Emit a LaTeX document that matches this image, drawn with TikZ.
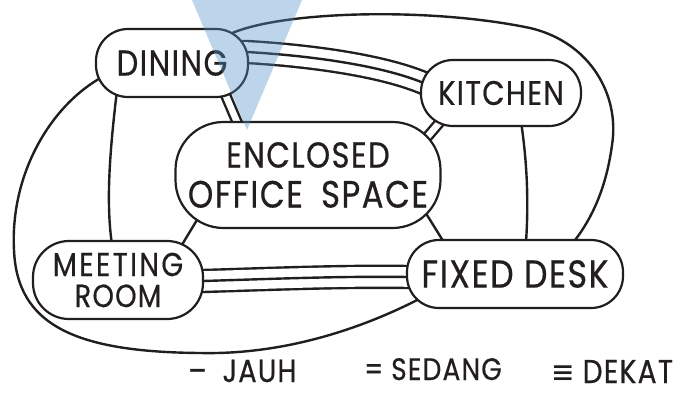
\documentclass[tikz,border=0pt]{standalone}
\usepackage{fontspec}
\setmainfont{Poppins}[FakeStretch=0.85, LetterSpace=4, FakeBold=0.5]
\newfontfamily\symf{DejaVu Sans}[FakeStretch=0.85]
\usetikzlibrary{calc,backgrounds}
\definecolor{ink}{RGB}{35,30,30}
\definecolor{skyblue}{RGB}{80,145,200}
\begin{document}
\begin{tikzpicture}[x=1pt,y=-1pt,
  bubble/.style={draw=ink, line width=2.2pt, fill=white, inner sep=0pt, outer sep=0pt, align=center, text=ink},
  single/.style={draw=ink, line width=2.4pt},
  dbl/.style={draw=ink, double=white, double distance=6.5pt, line width=2.4pt},
  trpl/.style={draw=ink, line width=24.4pt, postaction={draw=white, line width=19.6pt}, postaction={draw=ink, line width=2.4pt}},
  legend/.style={text=ink, inner sep=0pt, anchor=base west},
]
\useasboundingbox (0,0) rectangle (688,394);

% bubbles
\node[bubble, rounded corners=32pt, minimum width=152pt, minimum height=68pt,
      font=\fontsize{36}{38}\selectfont] (din) at (172,63) {DINING};
\node[bubble, rounded corners=32pt, minimum width=160pt, minimum height=66pt,
      font=\fontsize{34}{36}\selectfont] (kit) at (501,93) {KITCHEN};
\node[bubble, rounded corners=48pt, minimum width=265pt, minimum height=106pt,
      font=\fontsize{36}{40}\selectfont] (enc) at (308,175)
      {ENCLOSED\\{\fontsize{38}{40}\selectfont OFFICE\hspace{8pt} SPACE}};
\node[bubble, rounded corners=36pt, minimum width=170pt, minimum height=78pt,
      font=\fontsize{33}{31}\selectfont] (meet) at (118,280)
      {{\addfontfeatures{LetterSpace=7}MEETING}\\{\fontsize{32}{31}\selectfont ROOM}};
\node[bubble, rounded corners=32pt, minimum width=216pt, minimum height=68pt,
      font=\fontsize{39}{40}\selectfont] (fix) at (515,274) {FIXED DESK};

% connectors
\begin{pgfonlayer}{background}
\fill[white] (0,0) rectangle (688,394);
% dining - kitchen (dekat)
\draw[trpl] ([shift={(43,-11)}]din.center) -- ([shift={(75,-11)}]din.center)
  .. controls (300,55) and (380,64) .. ([shift={(-75,-9)}]kit.center)
  -- ([shift={(-51,2)}]kit.center);
% dining - enclosed (sedang)
\draw[dbl] ([shift={(48,19)}]din.center) -- ([shift={(-65,-39)}]enc.center);
% dining - meeting (jauh)
\draw[single] ([shift={(-55,27)}]din.center) .. controls (110,150) and (105,205) .. ([shift={(-5,-29)}]meet.center);
% dining - fixed desk, left arc (jauh)
\draw[single] ([shift={(-68,13)}]din.center) .. controls (50,105) and (10,175) .. (14,250)
  .. controls (17,325) and (75,352) .. (200,353)
  .. controls (290,355) and (370,325) .. ([shift={(-90,22)}]fix.center);
% dining - fixed desk, top arc (jauh)
\draw[single] ([shift={(48,-23)}]din.center) .. controls (255,12) and (420,5) .. (530,28)
  .. controls (590,42) and (620,95) .. (612,145)
  .. controls (606,190) and (590,225) .. ([shift={(50,-22)}]fix.center);
% kitchen - enclosed (sedang)
\draw[dbl] ([shift={(-49,15)}]kit.center) -- ([shift={(97,-12)}]enc.center);
% kitchen - fixed desk (jauh)
\draw[single] ([shift={(19,22)}]kit.center) .. controls (528,165) and (529,210) .. ([shift={(10,-19)}]fix.center);
% enclosed - meeting (jauh)
\draw[single] ([shift={(-105,35)}]enc.center) -- ([shift={(59,-27)}]meet.center);
% enclosed - fixed desk (jauh)
\draw[single] ([shift={(114,32)}]enc.center) -- ([shift={(-65,-22)}]fix.center);
% meeting - fixed desk (dekat)
\draw[trpl] ([shift={(62,1)}]meet.center) -- ([shift={(85,1)}]meet.center)
  .. controls (270,279) and (340,276) .. ([shift={(-107,3)}]fix.center)
  -- ([shift={(-85,3)}]fix.center);
\end{pgfonlayer}

% legend
\node[legend, font=\fontsize{32}{34}\selectfont] (jauh) at (188,382) {–\hspace{16pt}JAUH};
\node[legend, font=\fontsize{31}{34}\selectfont] (sedang) at (364,380) {=\hspace{8pt}SEDANG};
\node[legend, font=\fontsize{33}{36}\selectfont] (dekat) at (551,383) {{\symf ≡}\hspace{8pt}DEKAT};

% translucent blue wedge
\fill[skyblue, fill opacity=0.38] (192,0) -- (302,0) -- (247,130) -- cycle;
\end{tikzpicture}
\end{document}
